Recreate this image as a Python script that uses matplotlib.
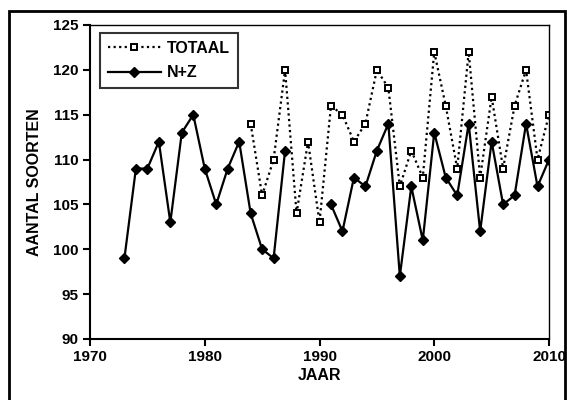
import numpy as np
import matplotlib
matplotlib.use('Agg')
import matplotlib.pyplot as plt
from matplotlib.patches import Rectangle

plt.rcParams['font.family'] = ['Liberation Sans', 'DejaVu Sans']
plt.rcParams['font.weight'] = 'bold'

# TOTAAL series 1984-2010
years_tot = np.arange(1984, 2011)
totaal = [114, 106, 110, 120, 104, 112, 103, 116, 115, 112, 114, 120, 118, 107,
          111, 108, 122, 116, 109, 122, 108, 117, 109, 116, 120, 110, 115]

# N+Z series 1973-2010 (no data 1988-1990)
years_nz = np.arange(1973, 2011)
nz = [99, 109, 109, 112, 103, 113, 115, 109, 105, 109, 112, 104, 100, 99, 111,
      np.nan, np.nan, np.nan,
      105, 102, 108, 107, 111, 114, 97, 107, 101, 113, 108, 106, 114, 102, 112,
      105, 106, 114, 107, 110]

fig = plt.figure(figsize=(5.67, 4.0), dpi=100)
ax = fig.add_axes([90 / 567, 1 - 339 / 400, 459 / 567, 314 / 400])

ax.plot(years_tot, totaal, linestyle=(0, (1, 1.5)), color='black', lw=1.6,
        marker='s', markersize=5, markerfacecolor='white',
        markeredgecolor='black', markeredgewidth=1.4, label='TOTAAL')
ax.plot(years_nz, nz, linestyle='-', color='black', lw=1.6,
        marker='D', markersize=5, markerfacecolor='black',
        markeredgecolor='black', label='N+Z')

ax.set_xlim(1970, 2010)
ax.set_ylim(90, 125)
ax.set_xticks(np.arange(1970, 2011, 10))
ax.set_yticks(np.arange(90, 126, 5))
ax.tick_params(direction='out', length=5, width=1.5, labelsize=11, pad=3)
for s in ax.spines.values():
    s.set_linewidth(1.5)
ax.spines['top'].set_linewidth(1.0)
ax.spines['right'].set_linewidth(1.0)

ax.set_xlabel('JAAR', fontsize=11.5, fontweight='bold', labelpad=3)
ax.set_ylabel('AANTAL SOORTEN', fontsize=11.5, fontweight='bold', labelpad=8)

leg = ax.legend(loc='upper left', bbox_to_anchor=(0.022, 0.975),
                borderaxespad=0, fontsize=11.5,
                frameon=True, fancybox=False, edgecolor='black',
                handlelength=3.3, handletextpad=0.4, borderpad=0.5,
                labelspacing=0.6)
leg.get_frame().set_linewidth(1.5)

fig.patches.append(Rectangle((9 / 567, -0.01), 556 / 567, 1.01 - 11 / 400,
                             transform=fig.transFigure, fill=False,
                             edgecolor='black', lw=2))

fig.savefig('out.png', dpi=100)
